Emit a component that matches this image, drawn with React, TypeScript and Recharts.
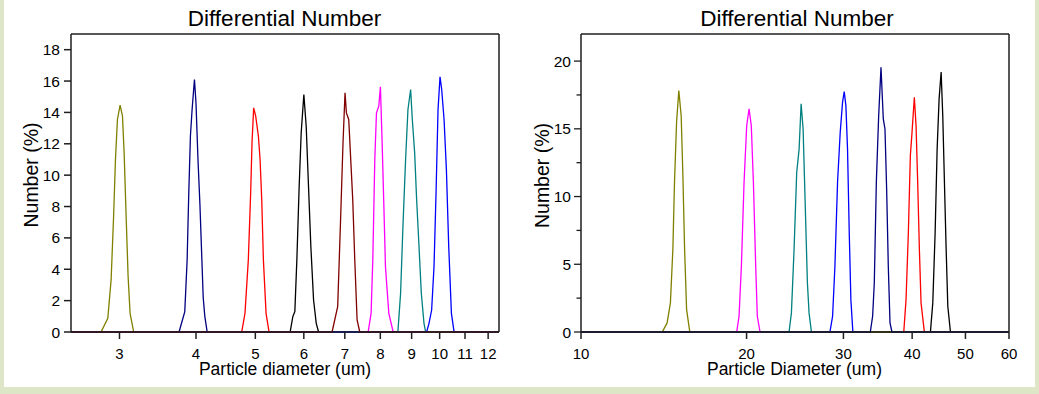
import React from 'react';
import { LineChart, Line, XAxis, YAxis } from 'recharts';

// ---------- tick labels ----------
const leftXTicks = [3, 4, 5, 6, 7, 8, 9, 10, 11, 12];
const leftYTicks = [0, 2, 4, 6, 8, 10, 12, 14, 16, 18];
const rightXTicks = [10, 20, 30, 40, 50, 60];
const rightYTicks = [0, 2.5, 5, 7.5, 10, 12.5, 15, 17.5, 20];

// ---------- left panel series: [diameter um, number %] ----------
const leftOlive3 = [[2.5, 0], [2.799, 0], [2.871, 0.87], [2.907, 3.32], [2.933, 7.16], [2.955, 11.0], [2.977, 13.55], [3.007, 14.46], [3.034, 13.76], [3.053, 11.42], [3.076, 7.37], [3.099, 3.53], [3.122, 1.19], [3.165, 0], [12.5, 0]];
const leftNavy4 = [[2.5, 0], [3.753, 0], [3.835, 1.3], [3.869, 4.6], [3.893, 8.86], [3.917, 12.48], [3.942, 14.19], [3.977, 16.1], [4.0, 14.6], [4.03, 11.0], [4.06, 8.1], [4.11, 2.2], [4.135, 1.0], [4.172, 0], [12.5, 0]];
const leftRed5 = [[2.5, 0], [4.75, 0], [4.809, 1.19], [4.87, 4.6], [4.913, 8.86], [4.938, 12.06], [4.969, 14.29], [5.007, 13.76], [5.058, 12.48], [5.09, 11.0], [5.122, 8.43], [5.154, 4.6], [5.206, 1.19], [5.265, 0], [12.5, 0]];
const leftBlack6 = [[2.5, 0], [5.699, 0], [5.757, 0.98], [5.801, 1.3], [5.845, 4.6], [5.896, 9.28], [5.941, 12.7], [6.001, 15.14], [6.054, 13.12], [6.107, 9.28], [6.161, 5.45], [6.224, 2.04], [6.287, 0.55], [6.343, 0], [12.5, 0]];
const leftMaroon7 = [[2.5, 0], [6.672, 0], [6.815, 1.62], [6.884, 6.73], [6.953, 12.06], [7.006, 15.25], [7.042, 13.97], [7.104, 13.55], [7.167, 10.56], [7.212, 8.43], [7.267, 4.6], [7.331, 0.77], [7.405, 0], [12.5, 0]];
const leftMagenta8 = [[2.5, 0], [7.642, 0], [7.727, 1.19], [7.777, 4.6], [7.836, 11.0], [7.885, 13.97], [7.954, 14.4], [8.003, 15.63], [8.055, 12.06], [8.105, 8.22], [8.156, 4.17], [8.26, 1.19], [8.396, 0], [12.5, 0]];
const leftTeal9 = [[2.5, 0], [8.546, 0], [8.634, 2.47], [8.71, 6.73], [8.798, 11.0], [8.876, 14.19], [8.966, 15.46], [9.023, 13.55], [9.103, 11.42], [9.171, 8.43], [9.253, 5.45], [9.333, 2.47], [9.428, 0.55], [9.487, 0], [12.5, 0]];
const leftBlue10 = [[2.5, 0], [9.522, 0], [9.607, 0.55], [9.703, 1.4], [9.79, 4.17], [9.865, 8.86], [9.939, 14.19], [10.014, 16.27], [10.077, 15.46], [10.167, 13.55], [10.257, 10.35], [10.347, 5.45], [10.452, 1.19], [10.558, 0], [12.5, 0]];

// ---------- right panel series ----------
const rightOlive15 = [[10, 0], [14.05, 0], [14.34, 0.67], [14.54, 2.15], [14.69, 6.1], [14.79, 11.04], [14.92, 15.48], [15.06, 17.82], [15.21, 15.97], [15.32, 11.53], [15.43, 6.1], [15.56, 1.65], [15.77, 0], [60, 0]];
const rightMagenta20 = [[10, 0], [19.19, 0], [19.38, 1.16], [19.57, 4.86], [19.79, 11.04], [20.01, 15.23], [20.21, 16.47], [20.4, 15.23], [20.58, 11.04], [20.78, 4.86], [20.92, 1.16], [21.16, 0], [60, 0]];
const rightTeal25 = [[10, 0], [23.89, 0], [24.13, 1.41], [24.4, 6.1], [24.67, 11.78], [24.92, 13.5], [25.13, 16.84], [25.34, 14.99], [25.55, 9.8], [25.8, 3.63], [25.98, 1.41], [26.24, 0], [60, 0]];
const rightBlue30 = [[10, 0], [28.35, 0], [28.67, 1.16], [28.95, 4.86], [29.27, 11.04], [29.6, 14.74], [29.89, 16.96], [30.1, 17.75], [30.31, 16.71], [30.52, 13.5], [30.74, 7.33], [30.95, 2.39], [31.21, 0], [60, 0]];
const rightNavy35 = [[10, 0], [33.57, 0], [33.9, 1.16], [34.14, 3.63], [34.43, 11.04], [34.77, 15.97], [35.11, 19.55], [35.45, 15.73], [35.7, 14.99], [35.95, 10.54], [36.2, 4.86], [36.46, 0.67], [36.76, 0], [60, 0]];
const rightRed40 = [[10, 0], [38.62, 0], [38.99, 2.39], [39.37, 7.33], [39.7, 13.01], [39.98, 14.74], [40.37, 17.33], [40.66, 15.23], [40.94, 11.04], [41.23, 6.1], [41.52, 2.15], [42.1, 0], [60, 0]];
const rightBlack45 = [[10, 0], [43.18, 0], [43.61, 2.15], [44.04, 7.33], [44.41, 13.5], [44.78, 17.21], [45.16, 19.19], [45.47, 15.97], [45.79, 11.04], [46.12, 6.1], [46.44, 1.9], [46.96, 0], [60, 0]];

const toPts = (arr: number[][]) => arr.map(([x, y]) => ({ x, y }));

const leftSeries = [
  { name: '3um', color: '#808000', data: leftOlive3 },
  { name: '4um', color: '#000080', data: leftNavy4 },
  { name: '5um', color: '#ff0000', data: leftRed5 },
  { name: '6um', color: '#000000', data: leftBlack6 },
  { name: '8um', color: '#ff00ff', data: leftMagenta8 },
  { name: '9um', color: '#008080', data: leftTeal9 },
  { name: '10um', color: '#0000ff', data: leftBlue10 },
  { name: '7um', color: '#800000', data: leftMaroon7 },
];

const rightSeries = [
  { name: '20um', color: '#ff00ff', data: rightMagenta20 },
  { name: '25um', color: '#008080', data: rightTeal25 },
  { name: '30um', color: '#0000ff', data: rightBlue30 },
  { name: '40um', color: '#ff0000', data: rightRed40 },
  { name: '45um', color: '#000000', data: rightBlack45 },
  { name: '15um', color: '#808000', data: rightOlive15 },
  { name: '35um', color: '#000080', data: rightNavy35 },
];

const FONT = '"Liberation Sans", Arial, Helvetica, sans-serif';
const AXIS = '#1e1e1e';

const XTick = (props: any) => {
  const { x, y, payload } = props;
  return (
    <text x={x} y={y} dy="0.71em" textAnchor="middle" fontSize={15} fill="#000" fontFamily={FONT}>
      {payload.value}
    </text>
  );
};

const LeftYTick = (props: any) => {
  const { x, y, payload } = props;
  return (
    <text x={x} y={y} dy="0.355em" textAnchor="end" fontSize={15.5} fill="#000" fontFamily={FONT}>
      {payload.value}
    </text>
  );
};

const RightYTick = (props: any) => {
  const { x, y, payload } = props;
  const v = payload.value;
  const major = v % 5 === 0;
  const axisX = x + 10;
  return (
    <g>
      <line x1={axisX - (major ? 7 : 4.5)} x2={axisX} y1={y} y2={y} stroke={AXIS} strokeWidth={1.3} />
      {major && (
        <text x={x} y={y} dy="0.355em" textAnchor="end" fontSize={15.5} fill="#000" fontFamily={FONT}>
          {v}
        </text>
      )}
    </g>
  );
};

const EmptyTick = () => <g />;

export default function App() {
  return (
    <div style={{ position: 'absolute', left: 0, top: 0, width: 1039, height: 394, background: '#dde6c7', overflow: 'hidden' }}>
      <div style={{ position: 'absolute', left: 4, top: 0, width: 1031, height: 387, background: '#ffffff' }} />
      <div style={{ position: 'absolute', left: 0, top: 0 }}>
        <LineChart width={520} height={394} margin={{ top: 33, right: 21, bottom: 32, left: 21 }}>
          <XAxis
            xAxisId="b"
            dataKey="x"
            type="number"
            scale="log"
            domain={[2.5, 12.5]}
            allowDataOverflow
            ticks={leftXTicks}
            interval={0}
            height={30}
            tickSize={7}
            tickMargin={9}
            tick={<XTick />}
            stroke={AXIS}
            strokeWidth={1.5}
          />
          <XAxis xAxisId="t" orientation="top" type="number" domain={[0, 1]} ticks={[0, 1]} height={1} tick={<EmptyTick />} tickLine={false} stroke={AXIS} strokeWidth={1.5} />
          <YAxis
            yAxisId="l"
            type="number"
            domain={[0, 19]}
            ticks={leftYTicks}
            interval={0}
            width={50}
            tickSize={7}
            tickMargin={4}
            tick={<LeftYTick />}
            stroke={AXIS}
            strokeWidth={1.5}
          />
          <YAxis yAxisId="r" orientation="right" mirror type="number" domain={[0, 19]} ticks={leftYTicks} interval={0} width={1} tickSize={3} tick={<EmptyTick />} stroke={AXIS} strokeWidth={1.5} />
          {leftSeries.map((s) => (
            <Line
              key={s.name}
              xAxisId="b"
              yAxisId="l"
              data={toPts(s.data)}
              dataKey="y"
              type="linear"
              stroke={s.color}
              strokeWidth={1.3}
              dot={false}
              activeDot={false}
              isAnimationActive={false}
            />
          ))}
        </LineChart>
      </div>
      <div style={{ position: 'absolute', left: 520, top: 0 }}>
        <LineChart width={519} height={394} margin={{ top: 33, right: 30, bottom: 32, left: 11 }}>
          <XAxis
            xAxisId="b"
            dataKey="x"
            type="number"
            scale="log"
            domain={[10, 60]}
            allowDataOverflow
            ticks={rightXTicks}
            interval={0}
            height={30}
            tickSize={7}
            tickMargin={9}
            tick={<XTick />}
            stroke={AXIS}
            strokeWidth={1.5}
          />
          <XAxis xAxisId="t" orientation="top" type="number" domain={[0, 1]} ticks={[0, 1]} height={1} tick={<EmptyTick />} tickLine={false} stroke={AXIS} strokeWidth={1.5} />
          <YAxis
            yAxisId="l"
            type="number"
            domain={[0, 22]}
            ticks={rightYTicks}
            interval={0}
            width={50}
            tickSize={7}
            tickMargin={3}
            tickLine={false}
            tick={<RightYTick />}
            stroke={AXIS}
            strokeWidth={1.5}
          />
          <YAxis yAxisId="r" orientation="right" mirror type="number" domain={[0, 22]} ticks={rightYTicks} interval={0} width={1} tickSize={4} tick={<EmptyTick />} stroke={AXIS} strokeWidth={1.5} />
          {rightSeries.map((s) => (
            <Line
              key={s.name}
              xAxisId="b"
              yAxisId="l"
              data={toPts(s.data)}
              dataKey="y"
              type="linear"
              stroke={s.color}
              strokeWidth={1.3}
              dot={false}
              activeDot={false}
              isAnimationActive={false}
            />
          ))}
        </LineChart>
      </div>
      <svg width={1039} height={394} style={{ position: 'absolute', left: 0, top: 0, pointerEvents: 'none' }}>
        <g fontFamily={FONT} fill="#000">
          <text x={284.5} y={26} fontSize={22.5} textAnchor="middle">Differential Number</text>
          <text x={797} y={26} fontSize={22.5} textAnchor="middle">Differential Number</text>
          <text x={285} y={375} fontSize={17.5} textAnchor="middle">Particle diameter (um)</text>
          <text x={794.5} y={375} fontSize={17.5} textAnchor="middle">Particle Diameter (um)</text>
          <text transform="translate(37.5,175) rotate(-90)" fontSize={19.5} textAnchor="middle">Number (%)</text>
          <text transform="translate(549,175.5) rotate(-90)" fontSize={19.5} textAnchor="middle">Number (%)</text>
        </g>
      </svg>
    </div>
  );
}
